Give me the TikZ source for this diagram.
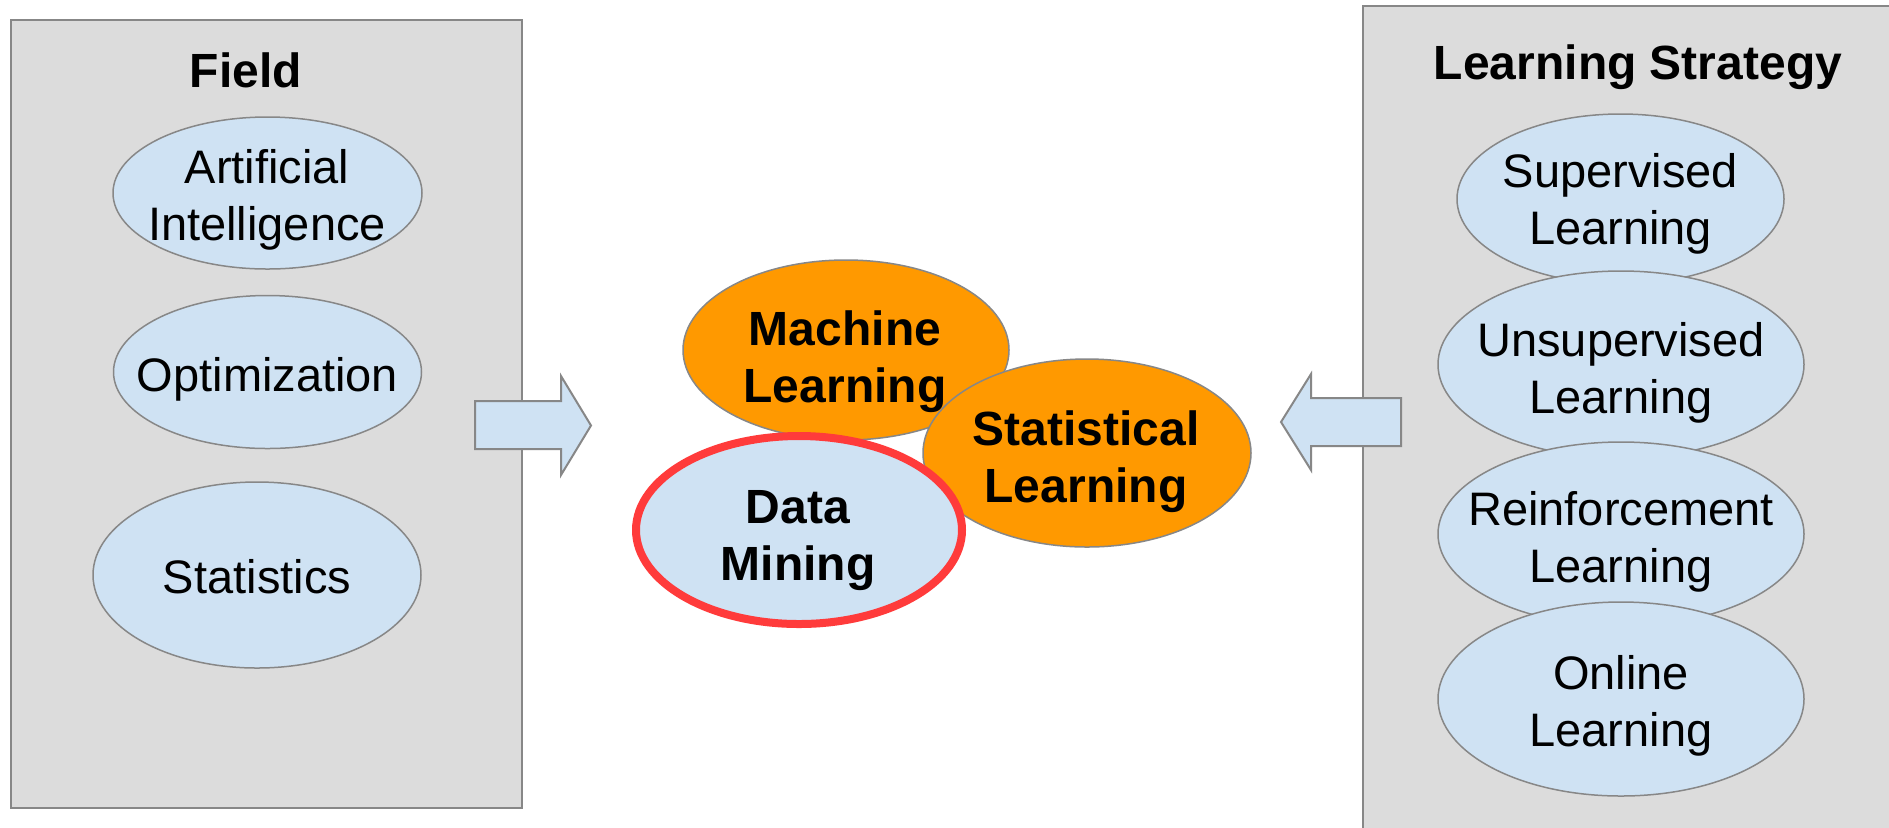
\documentclass[tikz,border=0pt]{standalone}
\usepackage{fontspec}
\setmainfont{Liberation Sans}
\usetikzlibrary{shapes.geometric}
\definecolor{boxgray}{HTML}{DCDCDC}
\definecolor{edgegray}{HTML}{878787}
\definecolor{lightblue}{HTML}{CFE2F3}
\definecolor{orng}{HTML}{FF9900}
\definecolor{redring}{HTML}{FF3B3B}
\newcommand{\mytwolines}[2]{\begin{tabular}[t]{@{}c@{}}#1\\#2\end{tabular}}
\begin{document}
\begin{tikzpicture}[x=0.5pt,y=-0.5pt,
  panel/.style={draw=edgegray, fill=boxgray, line width=1pt, inner sep=0pt, anchor=north west},
  ell/.style={ellipse, draw=edgegray, line width=0.75pt, inner sep=0pt, fill=lightblue},
  hot/.style={ell, fill=orng},
  dmring/.style={ell, draw=redring, line width=4pt},
  lbl/.style={font=\fontsize{23.5pt}{28.5pt}\selectfont, inner sep=0pt, anchor=base},
  blbl/.style={font=\fontsize{24pt}{28.5pt}\selectfont\bfseries, inner sep=0pt, anchor=base},
  blockarrow/.style={draw=edgegray, fill=lightblue, line width=1pt, line join=miter}
]
\clip (0,0) rectangle (1889,827);
\fill[white] (0,0) rectangle (1889,827);

% panels
\node[panel, minimum width=255.5pt, minimum height=394pt] (fieldbox) at (10,19) {};
\node[panel, minimum width=300pt, minimum height=425pt] (stratbox) at (1362,4.5) {};

\node[blbl] (fieldtitle) at (246,87) {Field};
\node[blbl] (strattitle) at (1638,79) {Learning Strategy};

% field ellipses
\node[ell, minimum width=154.5pt, minimum height=76pt] (ai) at (267.5,193) {};
\node[ell, minimum width=154pt, minimum height=76.5pt] (opt) at (267.5,372) {};
\node[ell, minimum width=164pt, minimum height=93pt] (stat) at (257,575) {};
\node[lbl] (aitxt) at (267,183) {\mytwolines{Artificial}{Intelligence}};
\node[lbl] (opttxt) at (267.5,391) {Optimization};
\node[lbl] (stattxt) at (257,593) {Statistics};

% strategy ellipses
\node[ell, minimum width=163.5pt, minimum height=85pt] (sup) at (1620.5,199) {};
\node[ell, minimum width=183pt, minimum height=93.5pt] (uns) at (1621,364.5) {};
\node[ell, minimum width=183pt, minimum height=92pt] (rei) at (1621,534) {};
\node[ell, minimum width=183pt, minimum height=97pt] (onl) at (1621,699) {};
\node[lbl] (suptxt) at (1620.5,187.5) {\mytwolines{Supervised}{Learning}};
\node[lbl] (unstxt) at (1621,356) {\mytwolines{Unsupervised}{Learning}};
\node[lbl] (reitxt) at (1621,525) {\mytwolines{Reinforcement}{Learning}};
\node[lbl] (onltxt) at (1621,689) {\mytwolines{Online}{Learning}};

% block arrows
\draw[blockarrow] (475,401) -- (561,401) -- (561,376) -- (591,425.5) -- (561,475) -- (561,449) -- (475,449) -- cycle;
\draw[blockarrow] (1401,398) -- (1311,398) -- (1311,374) -- (1281,422) -- (1311,470) -- (1311,446) -- (1401,446) -- cycle;

% centre cluster
\node[hot, minimum width=163pt, minimum height=90pt] (ml) at (846,350) {};
\node[blbl] (mltxt) at (845,345) {\mytwolines{Machine}{Learning}};
\node[hot, minimum width=164pt, minimum height=94pt] (sl) at (1087,453) {};
\node[blbl] (sltxt) at (1086,445) {\mytwolines{Statistical}{Learning}};
\node[dmring, minimum width=163pt, minimum height=94pt] (dm) at (799,530) {};
\node[blbl] (dmtxt) at (798,523) {\mytwolines{Data}{Mining}};
\end{tikzpicture}
\end{document}
